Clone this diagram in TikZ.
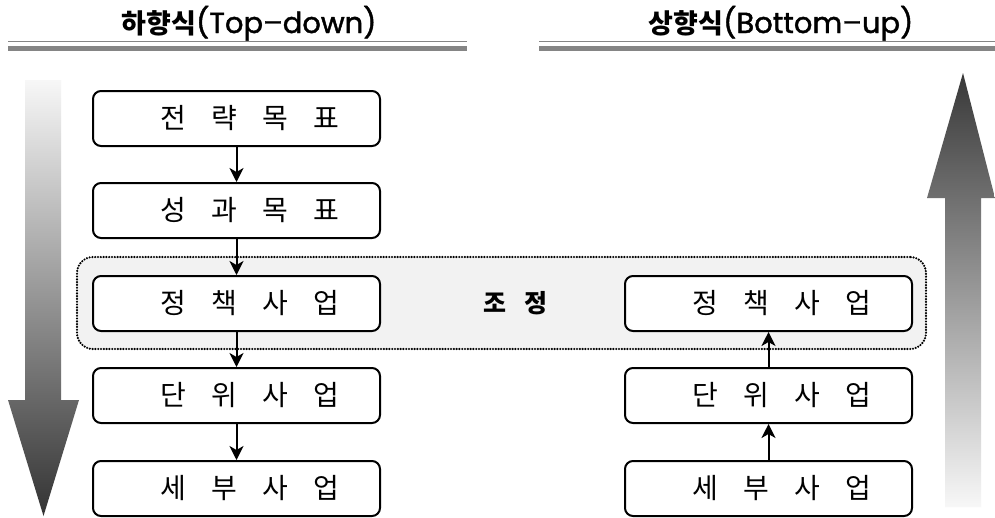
\documentclass[tikz,border=0pt]{standalone}
\usepackage{fontspec}
\setmainfont{Noto Sans CJK KR}
\newfontfamily\latn[FakeBold=1.5]{Poppins}
\usetikzlibrary{arrows.meta}
\newcommand\gapk{\hspace{25pt}}
\newcommand\gapc{\hspace{18pt}}
\definecolor{rulegray}{HTML}{858585}
\definecolor{zonefill}{HTML}{F2F2F2}
\tikzset{
  kbox/.style={draw=black, line width=2pt, fill=white, rounded corners=8pt,
    minimum width=287pt, minimum height=55pt, inner sep=0pt,
    font=\fontsize{28}{28}\selectfont},
  flow/.style={line width=2pt, -{Stealth[length=14pt,width=14pt,inset=4pt]}},
  titletext/.style={inner sep=0pt, anchor=base},
  thinrule/.style={draw=rulegray, line width=1.8pt},
  thickrule/.style={draw=rulegray, line width=5pt},
  zone/.style={draw=black, fill=zonefill, line width=2.4pt, dash pattern=on 0pt off 2.8pt,
    line cap=round, rounded corners=16pt},
}
\begin{document}
\begin{tikzpicture}[x=1pt,y=-1pt]
\useasboundingbox[fill=white] (0,0) rectangle (995,517);
% titles
\node[titletext] (tl) at (249,33) {\fontsize{27}{27}\selectfont\bfseries 하향식{\latn\mdseries\fontsize{29}{29}\selectfont (Top–down)}};
\node[titletext] (tr) at (781,33) {\fontsize{27}{27}\selectfont\bfseries 상향식{\latn\mdseries\fontsize{29}{29}\selectfont (Bottom–up)}};
\draw[thinrule] (8,41.5) -- (467,41.5);
\draw[thickrule] (8,48.5) -- (467,48.5);
\draw[thinrule] (539,41.5) -- (995,41.5);
\draw[thickrule] (539,48.5) -- (995,48.5);
% gradient arrows
\shade[top color=black!3, bottom color=black!80]
  (25,80) -- (61,80) -- (61,400) -- (79,400) -- (43.5,516) -- (8,400) -- (25,400) -- cycle;
\shade[top color=black!78, bottom color=black!3]
  (963,73) -- (995,198) -- (981,198) -- (981,507) -- (945,507) -- (945,198) -- (927,198) -- cycle;
% coordination zone
\node[zone, minimum width=849pt, minimum height=92pt, inner sep=0pt] (zone) at (501.5,303) {};
% left column
\node[kbox] (L1) at (236.5,118.5) {\hspace*{27pt}전\gapk 략\gapk 목\gapk 표};
\node[kbox] (L2) at (236.5,210.5) {\hspace*{27pt}성\gapk 과\gapk 목\gapk 표};
\node[kbox] (L3) at (236.5,303.5) {\hspace*{27pt}정\gapk 책\gapk 사\gapk 업};
\node[kbox] (L4) at (236.5,395.5) {\hspace*{27pt}단\gapk 위\gapk 사\gapk 업};
\node[kbox] (L5) at (236.5,488.5) {\hspace*{27pt}세\gapk 부\gapk 사\gapk 업};
% right column
\node[kbox] (R3) at (768.5,303.5) {\hspace*{27pt}정\gapk 책\gapk 사\gapk 업};
\node[kbox] (R4) at (768.5,395.5) {\hspace*{27pt}단\gapk 위\gapk 사\gapk 업};
\node[kbox] (R5) at (768.5,488.5) {\hspace*{27pt}세\gapk 부\gapk 사\gapk 업};
% label
\node[inner sep=0pt, font=\fontsize{25}{25}\selectfont\bfseries] (adj) at (515.5,303) {조\gapc 정};
% connectors
\draw[flow] (L1) -- (L2);
\draw[flow] (L2) -- (L3);
\draw[flow] (L3) -- (L4);
\draw[flow] (L4) -- (L5);
\draw[flow] (R5) -- (R4);
\draw[flow] (R4) -- (R3);
\end{tikzpicture}
\end{document}
